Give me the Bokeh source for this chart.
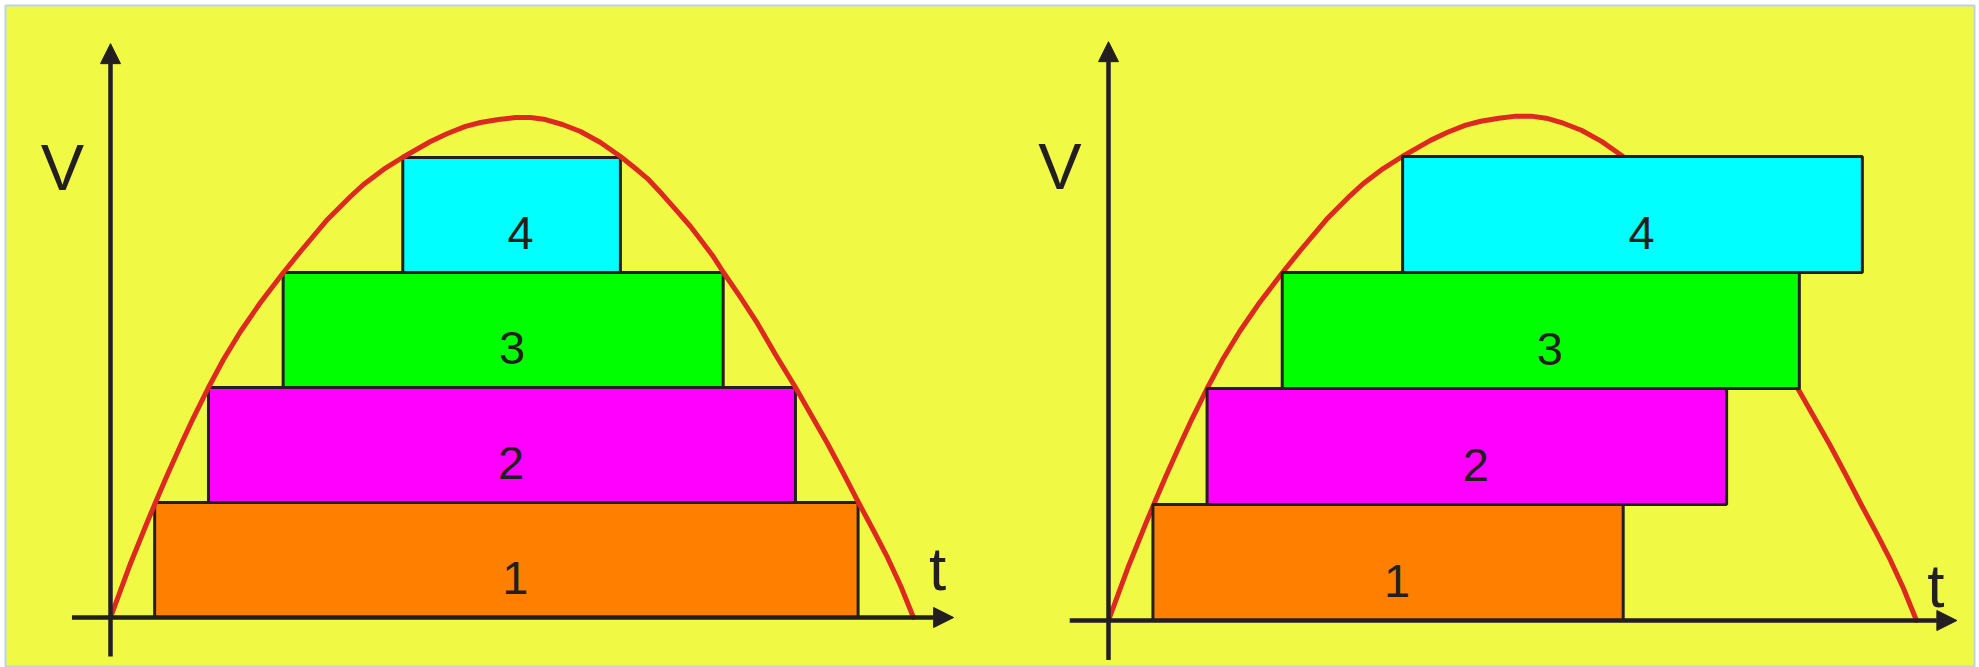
from bokeh.plotting import figure
from bokeh.models import Arrow, NormalHead, Range1d, ColumnDataSource
from bokeh.core.properties import value
from bokeh.embed import file_html
from bokeh.resources import INLINE

# ---------------- data ----------------
# voltage curve V(t) (same curve in both panels)
curve_t = [0.000, 0.249, 0.461, 0.560, 0.710, 0.872, 1.034, 1.220, 1.407, 1.619,
           1.868, 2.154, 2.366, 2.702, 2.989, 3.151, 3.400, 3.636, 3.985, 4.197,
           4.421, 4.608, 4.832, 5.044, 5.230, 5.417, 5.629, 5.853, 6.102, 6.351,
           6.538, 6.687, 6.874, 7.061, 7.223, 7.347, 7.497, 7.634, 7.846, 8.057,
           8.281, 8.531, 8.730, 8.929, 9.128, 9.315, 9.502, 9.676, 9.838, 10.000]
curve_v = [0.000, 0.470, 0.835, 1.000, 1.243, 1.496, 1.739, 2.000, 2.243, 2.487,
           2.739, 3.000, 3.183, 3.461, 3.661, 3.765, 3.896, 4.000, 4.139, 4.209,
           4.270, 4.304, 4.330, 4.348, 4.348, 4.330, 4.287, 4.226, 4.130, 4.009,
           3.904, 3.817, 3.678, 3.530, 3.400, 3.287, 3.148, 3.000, 2.783, 2.557,
           2.287, 2.000, 1.757, 1.513, 1.252, 1.000, 0.757, 0.522, 0.278, 0.000]

block_labels = ["1", "2", "3", "4"]
block_bottom = [0, 1, 2, 3]
block_top = [1, 2, 3, 4]
block_colors = ["#ff8000", "#ff00ff", "#00ff00", "#00ffff"]
block_start = [0.55, 1.22, 2.15, 3.64]
left_block_end = [9.31, 8.53, 7.63, 6.35]
right_block_end = [6.37, 7.65, 8.55, 9.33]

axis_t = [-0.48, 10.5]
axis_v = [-0.34, 4.99]

# ---------------- style ----------------
BG = "#f0f944"
INK = "#231f20"
RED = "#dc2a20"
EDGE = "#bcd2e8"
FONT = "Liberation Sans"
W, H = 1979, 667
MB = 5  # outer white margin / edge line position

# frame limits on the page (pixels)
FX0, FX1, FY0, FY1 = MB, W - MB, MB, H


def panel_ranges(origin, scale):
    (ox, oy), (sx, sy) = origin, scale
    return (Range1d((FX0 - ox) / sx, (FX1 - ox) / sx),
            Range1d((oy - FY1) / sy, (oy - FY0) / sy))


lx, ly = panel_ranges((110, 617), (80.3, 115))
rx, ry = panel_ranges((1108, 620), (80.8, 116))

p = figure(width=W, height=H, output_backend="svg", toolbar_location=None,
           title=None, x_axis_location=None, y_axis_location=None,
           x_range=lx, y_range=ly,
           min_border_left=MB, min_border_right=MB, min_border_top=MB,
           min_border_bottom=0, background_fill_color=BG,
           border_fill_color="white", outline_line_color=EDGE,
           outline_line_width=2)
p.extra_x_ranges = {"r": rx}
p.extra_y_ranges = {"r": ry}
p.grid.visible = False


def draw_panel(block_end, t_label_pos, curve_on_top, xr, yr):
    rn = dict(x_range_name=xr, y_range_name=yr)
    src = ColumnDataSource(dict(
        left=block_start, right=block_end, bottom=block_bottom, top=block_top,
        color=block_colors, label=block_labels,
        xc=[(a + b) / 2 for a, b in zip(block_start, block_end)],
        yl=[b + 0.34 for b in block_bottom]))

    def draw_curve():
        p.line(curve_t, curve_v, line_color=RED, line_width=5,
               line_join="round", line_cap="round", **rn)

    if not curve_on_top:
        draw_curve()
    p.quad(left="left", right="right", bottom="bottom", top="top", source=src,
           fill_color="color", line_color=INK, line_width=3, **rn)
    if curve_on_top:
        draw_curve()
    p.text(x="xc", y="yl", text="label", source=src, x_offset=9,
           text_align="center", text_baseline="alphabetic",
           text_font=value(FONT), text_font_size="47px", text_color=INK, **rn)

    head = dict(size=20, fill_color=INK, line_color=INK, line_width=1)
    p.add_layout(Arrow(end=NormalHead(**head), x_start=axis_t[0], y_start=0,
                       x_end=axis_t[1], y_end=0, line_color=INK, line_width=4.5,
                       **rn))
    p.add_layout(Arrow(end=NormalHead(**head), x_start=0, y_start=axis_v[0],
                       x_end=0, y_end=axis_v[1], line_color=INK, line_width=4.5,
                       **rn))

    p.text(x=[-0.6], y=[3.91], text=["V"], text_align="center",
           text_baseline="alphabetic", text_font=value(FONT),
           text_font_size="65px", text_color=INK, **rn)
    p.text(x=[t_label_pos[0]], y=[t_label_pos[1]], text=["t"], text_align="center",
           text_baseline="alphabetic", text_font=value(FONT),
           text_font_size="62px", text_color=INK, **rn)


draw_panel(left_block_end, (10.3, 0.43), True, "default", "default")
draw_panel(right_block_end, (10.24, 0.30), False, "r", "r")

open("out.html", "w").write(file_html(p, INLINE))
